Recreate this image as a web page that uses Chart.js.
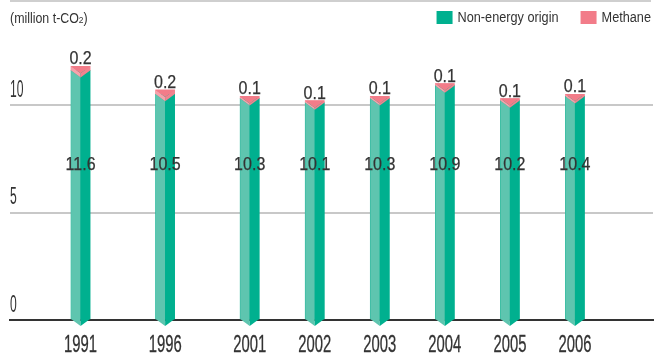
<!DOCTYPE html>
<html>
<head>
<meta charset="utf-8">
<script src="https://cdn.jsdelivr.net/npm/chart.js@4.4.0/dist/chart.umd.min.js"></script>
<style>
  html, body { margin: 0; padding: 0; background: #fff; }
</style>
</head>
<body>
<canvas id="co2Chart" width="667" height="359"></canvas>
<script>
// Emissions in million t-CO2
const years = ['1991', '1996', '2001', '2002', '2003', '2004', '2005', '2006'];
const nonEnergy = [11.6, 10.5, 10.3, 10.1, 10.3, 10.9, 10.2, 10.4];
const methane = [0.2, 0.2, 0.1, 0.1, 0.1, 0.1, 0.1, 0.1];
const yTicks = [0, 5, 10];

// where each year sits on the x scale (the 5-year steps are wider)
const slots = [0, 13, 26, 36, 46, 56, 66, 76];

const FONT = "'Liberation Sans', Arial, sans-serif";
const TEXT = '#333';
const GREEN_L = '#5ec5af';
const GREEN_D = '#00b08f';
const PINK = '#f27c89';
const PINK_L = '#f6a2ab';
const PINK_R = '#f0838f';

const toPoints = vals => vals.map((v, i) => ({ x: slots[i], y: v }));

function poly(ctx, pts, color) {
  ctx.beginPath();
  ctx.moveTo(pts[0][0], pts[0][1]);
  for (let k = 1; k < pts.length; k++) ctx.lineTo(pts[k][0], pts[k][1]);
  ctx.closePath();
  ctx.fillStyle = color;
  ctx.fill();
}

// horizontal squeeze that makes `sample` come out `width` px wide
function squeeze(ctx, sample, size, width) {
  ctx.save();
  ctx.font = size + 'px ' + FONT;
  const w = ctx.measureText(sample).width;
  ctx.restore();
  return width / w;
}

// condensed text: a regular face scaled horizontally, optionally thickened
function label(ctx, text, x, y, size, sx, align, weight) {
  ctx.save();
  ctx.font = size + 'px ' + FONT;
  ctx.textAlign = align || 'left';
  ctx.textBaseline = 'alphabetic';
  ctx.translate(x, y);
  ctx.scale(sx, 1);
  ctx.fillText(text, 0, 0);
  if (weight) {
    ctx.strokeStyle = ctx.fillStyle;
    ctx.lineWidth = weight;
    ctx.strokeText(text, 0, 0);
  }
  const w = ctx.measureText(text).width * sx;
  ctx.restore();
  return w;
}

// prism look: light left face, dark right face, pink cap with a V-shaped top
const prismBars = {
  id: 'prismBars',
  afterDatasetsDraw(chart) {
    const ctx = chart.ctx;
    const lower = chart.getDatasetMeta(0).data;
    const upper = chart.getDatasetMeta(1).data;
    const v = 7;
    ctx.save();
    lower.forEach((bar, i) => {
      const cap = upper[i];
      const xl = bar.x - bar.width / 2;
      const xr = bar.x + bar.width / 2;
      const xc = bar.x;
      const zero = bar.base, mid = bar.y, top = cap.y;
      poly(ctx, [[xl, mid], [xc, mid + v], [xc, zero + v], [xl, zero]], GREEN_L);
      poly(ctx, [[xc, mid + v], [xr, mid], [xr, zero], [xc, zero + v]], GREEN_D);
      poly(ctx, [[xl, top], [xc, top + v], [xc, mid + v], [xl, mid]], PINK_L);
      poly(ctx, [[xc, top + v], [xr, top], [xr, mid], [xc, mid + v]], PINK_R);
      poly(ctx, [[xl, top], [xr, top], [xc, top + v]], PINK);
    });
    ctx.restore();
  }
};

// axis labels, value labels, title, legend and header rule
const annotations = {
  id: 'annotations',
  afterDraw(chart) {
    const ctx = chart.ctx;
    const xScale = chart.scales.x;
    const yScale = chart.scales.y;
    const lower = chart.getDatasetMeta(0).data;
    const upper = chart.getDatasetMeta(1).data;
    ctx.save();

    ctx.strokeStyle = '#cfcfcf';
    ctx.lineWidth = 2;
    ctx.beginPath();
    ctx.moveTo(10, 1);
    ctx.lineTo(651, 1);
    ctx.stroke();

    ctx.fillStyle = TEXT;

    // y axis numbers sit just above their grid lines
    const sxY = squeeze(ctx, '10', 23, 13.5);
    yTicks.forEach(t => {
      label(ctx, String(t), 10, yScale.getPixelForValue(t) - 8.5, 23, sxY, 'left');
    });

    // years under the baseline
    const sxYear = squeeze(ctx, '2003', 23, 33);
    years.forEach((yr, i) => {
      label(ctx, yr, xScale.getPixelForValue(slots[i]), 351.5, 23, sxYear, 'center', 0.3);
    });

    // methane on top of each bar, non-energy part inside it
    const sxVal = squeeze(ctx, '11.6', 19, 30);
    const midLevel = yScale.getPixelForValue(7.0);
    lower.forEach((bar, i) => {
      label(ctx, methane[i].toFixed(1), bar.x, upper[i].y - 2, 19, sxVal, 'center', 0.25);
      label(ctx, nonEnergy[i].toFixed(1), bar.x, midLevel, 19, sxVal, 'center', 0.25);
    });

    // unit title
    const sxT = squeeze(ctx, '(million t-CO)', 14, 73);
    let x = 10;
    x += label(ctx, '(million t-CO', x, 22.5, 14, sxT);
    x += label(ctx, '2', x, 22.5, 9.5, sxT);
    label(ctx, ')', x, 22.5, 14, sxT);

    // legend, right aligned
    const sxL = squeeze(ctx, 'Non-energy origin', 14, 101);
    let right = 651;
    chart.data.datasets.slice().reverse().forEach(ds => {
      ctx.save();
      ctx.font = '14px ' + FONT;
      const w = ctx.measureText(ds.label).width * sxL;
      ctx.restore();
      const tx = right - w;
      ctx.fillStyle = TEXT;
      label(ctx, ds.label, tx, 21.5, 14, sxL);
      ctx.fillStyle = ds.backgroundColor;
      ctx.fillRect(tx - 21, 11, 16, 13);
      right = tx - 21 - 22;
    });
    ctx.restore();
  }
};

new Chart(document.getElementById('co2Chart'), {
  type: 'bar',
  data: {
    datasets: [
      { label: 'Non-energy origin', data: toPoints(nonEnergy), backgroundColor: GREEN_D, barThickness: 19 },
      { label: 'Methane', data: toPoints(methane), backgroundColor: PINK, barThickness: 19 }
    ]
  },
  options: {
    responsive: false,
    devicePixelRatio: 1,
    animation: false,
    layout: { padding: { top: 40.5, left: 10, right: 14, bottom: 4 } },
    plugins: { legend: { display: false }, tooltip: { enabled: false } },
    scales: {
      x: {
        type: 'linear',
        stacked: true,
        offset: false,
        min: -10.85,
        max: 88,
        afterBuildTicks: sc => { sc.ticks = slots.map(s => ({ value: s })); },
        afterFit: sc => { sc.height = 35; },
        grid: { display: false },
        border: { color: '#333', width: 2 },
        ticks: { display: false }
      },
      y: {
        stacked: true,
        min: 0,
        max: 13,
        afterBuildTicks: sc => { sc.ticks = yTicks.map(t => ({ value: t })); },
        grid: {
          color: c => (c.tick && c.tick.value === 0) ? 'rgba(0,0,0,0)' : '#c8c8c8',
          lineWidth: 2,
          drawTicks: false
        },
        border: { display: false },
        ticks: { display: false }
      }
    }
  },
  plugins: [prismBars, annotations]
});
</script>
</body>
</html>
